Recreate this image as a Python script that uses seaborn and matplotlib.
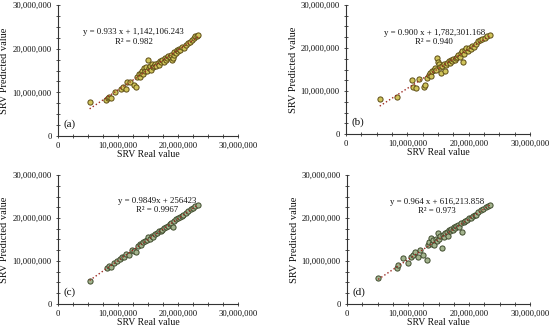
import seaborn as sns
import matplotlib.pyplot as plt
import numpy as np
import pandas as pd
from matplotlib.ticker import FuncFormatter, MultipleLocator

# values in millions
a_real = [5.3, 8.0, 8.3, 8.6, 8.9, 9.5, 10.5, 10.9, 11.3, 11.5, 12.0, 12.7, 13.0, 13.2, 13.5, 13.7,
          13.9, 14.0, 14.2, 14.4, 14.5, 14.7, 14.9, 15.0, 15.1, 15.3, 15.5, 15.6, 15.8, 16.0, 16.2,
          16.4, 16.6, 16.8, 17.0, 17.2, 17.4, 17.6, 17.8, 18.0, 18.2, 18.4, 18.6, 18.8, 19.0, 19.1,
          19.3, 19.4, 19.6, 19.8, 20.0, 20.2, 20.4, 20.7, 21.0, 21.3, 21.6, 22.0, 22.3, 22.6, 22.9,
          23.2, 23.4]
a_pred = [7.9, 8.2, 8.7, 9.0, 8.8, 10.1, 10.8, 11.2, 10.7, 12.4, 12.4, 11.6, 11.2, 13.5, 14.2, 13.6,
          14.5, 15.0, 14.1, 15.5, 14.8, 15.9, 14.9, 17.3, 15.6, 16.0, 15.2, 16.4, 15.7, 16.1, 16.6,
          16.0, 16.8, 16.3, 17.2, 17.0, 17.5, 16.9, 17.8, 17.4, 17.9, 18.3, 18.0, 18.6, 17.3, 17.9,
          18.5, 19.2, 18.9, 19.6, 19.4, 20.0, 19.8, 20.3, 20.1, 20.8, 21.3, 21.6, 22.0, 22.5, 22.8,
          23.0, 23.1]

b_real = [5.5, 8.3, 10.8, 10.9, 11.4, 11.9, 12.7, 12.8, 13.2, 13.5, 13.7, 13.9, 14.0, 14.3, 14.5,
          14.7, 14.8, 15.0, 15.1, 15.3, 15.5, 15.7, 15.9, 16.1, 16.3, 16.5, 16.7, 16.9, 17.1, 17.3,
          17.5, 17.7, 17.9, 18.1, 18.3, 18.5, 18.7, 18.9, 19.1, 19.2, 19.4, 19.6, 19.8, 20.0, 20.3,
          20.6, 20.9, 21.2, 21.5, 21.8, 22.2, 22.6, 23.0, 23.4]
b_pred = [8.1, 8.7, 12.6, 11.0, 10.8, 12.8, 11.0, 11.3, 13.0, 13.8, 14.3, 13.5, 14.6, 15.0, 15.4,
          14.8, 17.7, 16.8, 16.2, 15.6, 14.1, 15.8, 16.3, 14.6, 16.0, 16.5, 16.9, 16.4, 17.2, 17.0,
          17.5, 17.2, 17.6, 17.9, 18.4, 18.0, 18.9, 19.3, 16.8, 18.5, 19.5, 19.9, 19.2, 20.1, 19.8,
          20.5, 20.3, 20.9, 21.6, 21.9, 22.2, 22.4, 22.8, 23.0]

c_real = [5.3, 8.2, 8.5, 8.8, 9.3, 9.8, 10.4, 10.7, 11.0, 11.4, 11.8, 12.3, 12.7, 13.0, 13.3, 13.6,
          13.9, 14.2, 14.5, 14.8, 15.0, 15.3, 15.6, 15.9, 16.2, 16.5, 16.8, 17.1, 17.4, 17.7, 18.0,
          18.3, 18.6, 18.9, 19.1, 19.4, 19.7, 20.0, 20.3, 20.6, 20.9, 21.3, 21.7, 22.1, 22.5, 22.9,
          23.3]
c_pred = [5.4, 8.4, 8.9, 8.7, 9.5, 9.9, 10.5, 11.0, 10.9, 11.6, 11.5, 12.6, 12.2, 12.0, 13.4, 13.9,
          13.7, 14.3, 14.6, 14.9, 15.5, 15.2, 15.8, 15.6, 16.3, 16.4, 16.9, 17.0, 17.3, 17.6, 18.0,
          18.1, 18.5, 18.9, 17.8, 19.3, 19.7, 19.9, 20.2, 20.5, 20.8, 21.1, 21.6, 22.0, 22.4, 22.7,
          23.1]

d_real = [5.1, 8.2, 8.4, 9.2, 10.0, 10.5, 10.8, 11.2, 11.6, 12.0, 12.4, 13.1, 13.3, 13.5, 13.7,
          13.9, 14.1, 14.3, 14.5, 14.7, 14.9, 15.1, 15.3, 15.5, 15.7, 15.9, 16.1, 16.3, 16.5, 16.7,
          16.9, 17.1, 17.3, 17.5, 17.7, 17.9, 18.1, 18.4, 18.7, 18.9, 19.1, 19.4, 19.7, 20.0, 20.3,
          20.6, 20.9, 21.2, 21.5, 21.9, 22.3, 22.7, 23.1, 23.4]
d_pred = [6.0, 8.4, 9.0, 10.7, 9.5, 11.0, 11.4, 12.1, 10.9, 12.5, 11.5, 10.2, 13.6, 14.5, 15.4,
          14.0, 14.9, 13.8, 15.1, 14.6, 16.6, 15.2, 15.7, 13.0, 16.0, 15.6, 16.4, 16.8, 15.9, 17.3,
          16.9, 17.5, 17.1, 18.0, 17.6, 18.1, 18.4, 17.9, 18.8, 16.7, 19.0, 19.3, 19.6, 20.1, 19.9,
          20.4, 20.8, 20.6, 21.3, 21.9, 22.1, 22.6, 22.9, 23.0]

panel_tags = ['(a)', '(b)', '(c)', '(d)']
equations = ['y = 0.933 x + 1,142,106.243', 'y = 0.900 x + 1,782,301.168',
             'y = 0.9849x + 256423', 'y = 0.964 x + 616,213.858']
r2_texts = ['R\u00b2 = 0.982', 'R\u00b2 = 0.940', 'R\u00b2 = 0.9967', 'R\u00b2 = 0.973']

sns.set_theme(style='ticks')
plt.rcParams['font.family'] = ['Liberation Serif', 'DejaVu Serif']

fig = plt.figure(figsize=(5.5, 3.31), dpi=100)
boxes = [[0.105, 0.589, 0.328, 0.396], [0.629, 0.595, 0.335, 0.390],
         [0.105, 0.082, 0.328, 0.389], [0.631, 0.082, 0.333, 0.389]]
eq_pos = [(0.42, 0.79, 0.72), (0.48, 0.78, 0.71), (0.55, 0.80, 0.73), (0.49, 0.79, 0.72)]
face = ['#cfc35a', '#cfc35a', '#a3b48e', '#a3b48e']
edge = ['#5c4c14', '#5c4c14', '#3e4a2c', '#3e4a2c']

data = [(a_real, a_pred), (b_real, b_pred), (c_real, c_pred), (d_real, d_pred)]
fmt = FuncFormatter(lambda v, p: f'{int(v):,}')

for i, (xr, yp) in enumerate(data):
    ax = fig.add_axes(boxes[i])
    df = pd.DataFrame({'real': np.array(xr) * 1e6, 'pred': np.array(yp) * 1e6})
    sns.regplot(data=df, x='real', y='pred', ax=ax, ci=None,
                scatter_kws=dict(s=14, color=face[i], edgecolor=edge[i], linewidths=0.7, alpha=1),
                line_kws=dict(color='#9c2a22', linestyle=':', linewidth=1.0))
    ax.set_xlim(0, 30e6)
    ax.set_ylim(0, 30e6)
    ax.xaxis.set_major_locator(MultipleLocator(10e6))
    ax.yaxis.set_major_locator(MultipleLocator(10e6))
    ax.xaxis.set_minor_locator(MultipleLocator(2.5e6))
    ax.yaxis.set_minor_locator(MultipleLocator(2.5e6))
    ax.xaxis.set_major_formatter(fmt)
    ax.yaxis.set_major_formatter(fmt)
    ax.tick_params(which='both', direction='inout', length=3, width=0.6, labelsize=6.2, pad=3,
                   colors='#333333', labelcolor='#111111')
    for s in ['left', 'bottom']:
        ax.spines[s].set_linewidth(0.8)
        ax.spines[s].set_color('#333333')
    sns.despine(ax=ax)
    ax.set_xlabel('SRV Real value', fontsize=7, labelpad=0, color='#111111')
    ax.set_ylabel('SRV Predicted value', fontsize=7.5, labelpad=2, color='#111111')
    ex, ey, ry = eq_pos[i]
    ax.text(ex, ey, equations[i], transform=ax.transAxes, ha='center', va='center',
            fontsize=6.3, color='#111111')
    ax.text(ex, ry, r2_texts[i], transform=ax.transAxes, ha='center', va='center',
            fontsize=6.3, color='#111111')
    ax.text(0.03, 0.09, panel_tags[i], transform=ax.transAxes, ha='left', va='center',
            fontsize=8, color='#111111')

fig.savefig('out.png', dpi=100)
